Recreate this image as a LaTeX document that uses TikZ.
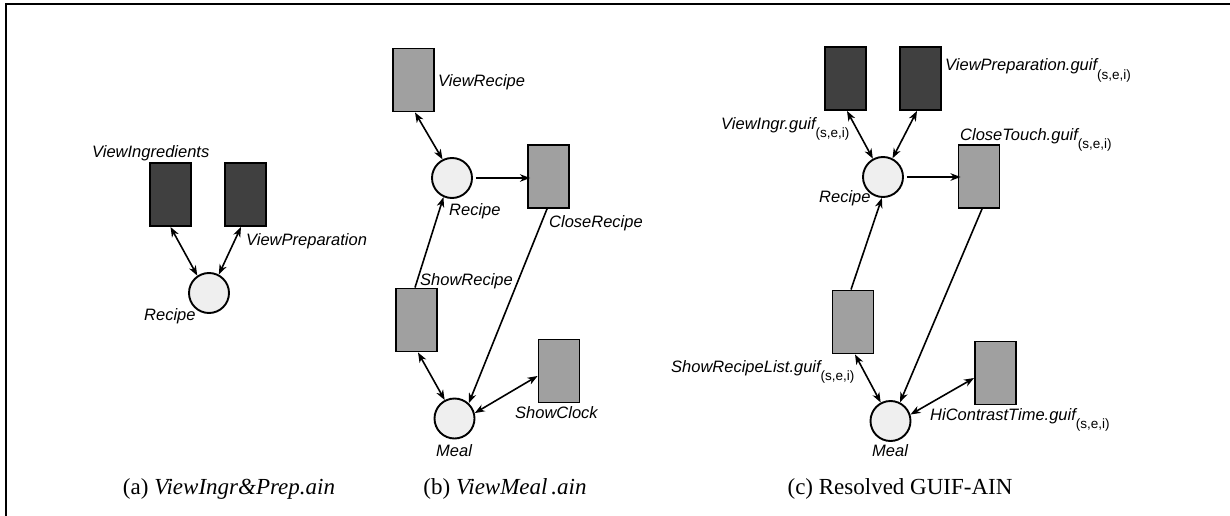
\documentclass[tikz,border=0pt]{standalone}
\usepackage{fontspec}
\setmainfont{Liberation Serif}
\setsansfont{Liberation Sans}
\usetikzlibrary{arrows.meta}
\definecolor{darkfill}{HTML}{404040}
\definecolor{midfill}{HTML}{A0A0A0}
\definecolor{placefill}{HTML}{EFEFEF}
\newcommand{\subsei}{\raisebox{-8.5pt}{\fontsize{13.5}{15}\selectfont\upshape (s,e,i)}}
\begin{document}
\begin{tikzpicture}[x=1pt,y=-1pt,
  darkbox/.style={rectangle,draw=black,line width=1.9pt,fill=darkfill,minimum width=41pt,minimum height=63pt,inner sep=0pt},
  midbox/.style={rectangle,draw=black,line width=1.9pt,fill=midfill,minimum width=41pt,minimum height=63pt,inner sep=0pt},
  placenode/.style={circle,draw=black,line width=1.9pt,fill=placefill,minimum size=40pt,inner sep=0pt},
  lab/.style={anchor=base west,inner sep=0pt,font=\fontsize{16.5}{19}\selectfont\sffamily\itshape},
  captext/.style={anchor=base,inner sep=0pt,font=\fontsize{23}{27}\selectfont},
  tip/.style={line width=1.6pt,-{Stealth[length=10pt,width=7.5pt,inset=3pt]}},
  bitip/.style={line width=1.6pt,{Stealth[length=10pt,width=7.5pt,inset=3pt]}-{Stealth[length=10pt,width=7.5pt,inset=3pt]}},
  frameline/.style={line width=1.4pt}]
\useasboundingbox (0,0) rectangle (1230,516);
% frame (top and left edges)
\coordinate (ftr) at (1230,4);
\coordinate (ftl) at (6,4);
\coordinate (fbl) at (6,516);
\draw[frameline] (ftr) -- (ftl) -- (fbl);

% ---------- (a) ----------
\node[darkbox] (aVI) at (170.5,194.5) {};
\node[darkbox] (aVP) at (245.5,194.5) {};
\node[placenode] (aR) at (209,293) {};
\node[lab] (laVI) at (92,157) {ViewIngredients};
\node[lab] (laVP) at (246,245) {ViewPreparation};
\node[lab] (laR) at (144,320) {Recipe};
\draw[bitip] (aVI.south) -- (aR.124);
\draw[bitip] ([xshift=-4.5pt]aVP.south) -- (aR.62);
\node[captext] (capa) at (229,494) {(a) \textit{ViewIngr\&Prep.ain}};

% ---------- (b) ----------
\node[midbox] (bVR) at (413.5,80) {};
\node[placenode] (bR) at (452,178) {};
\node[midbox] (bCR) at (548.5,176.5) {};
\node[midbox] (bSR) at (416.5,320) {};
\node[midbox] (bSC) at (559,371) {};
\node[placenode] (bM) at (454.5,418.5) {};
\node[lab] (lbVR) at (438,87) {ViewRecipe};
\node[lab] (lbR) at (449,215) {Recipe};
\node[lab] (lbCR) at (549,227) {CloseRecipe};
\node[lab] (lbSR) at (420,285) {ShowRecipe};
\node[lab] (lbSC) at (515,418) {ShowClock};
\node[lab] (lbM) at (436,456) {Meal};
\draw[bitip] ([xshift=1.5pt]bVR.south) -- (bR.117);
\draw[tip] ([xshift=3pt]bR.east) -- ([xshift=3pt]bR.east -| bCR.west);
\draw[tip] ([xshift=-1.5pt]bSR.north) -- (bR.246);
\draw[tip] ([xshift=-1.5pt]bCR.south) -- (bM.47);
\draw[bitip] ([xshift=1.5pt]bSR.south) -- (bM.118);
\draw[bitip] ([yshift=-5pt]bSC.west) -- (bM.15);
\node[captext] (capb) at (505,494) {(b) \textit{ViewMeal\,.ain}};

% ---------- (c) ----------
\node[darkbox] (cVI) at (845.5,78.5) {};
\node[darkbox] (cVP) at (920.5,78.5) {};
\node[placenode] (cR) at (883,177) {};
\node[midbox] (cCT) at (979,176.5) {};
\node[midbox] (cSR) at (853,322) {};
\node[midbox] (cHC) at (995.5,373) {};
\node[placenode] (cM) at (890.5,421) {};
\node[lab] (lcVP) at (945,71) {ViewPreparation.guif\subsei};
\node[lab] (lcVI) at (721,129) {ViewIngr.guif\subsei};
\node[lab] (lcCT) at (960,140) {CloseTouch.guif\subsei};
\node[lab] (lcR) at (819,202) {Recipe};
\node[lab] (lcSR) at (671,372) {ShowRecipeList.guif\subsei};
\node[lab] (lcHC) at (930,420) {HiContrastTime.guif\subsei};
\node[lab] (lcM) at (872,456) {Meal};
\draw[bitip] ([xshift=1.5pt]cVI.south) -- (cR.119);
\draw[bitip] ([xshift=-3.5pt]cVP.south) -- (cR.63);
\draw[tip] ([xshift=3pt]cR.east) -- ([xshift=3pt]cR.east -| cCT.west);
\draw[tip] ([xshift=-2pt]cSR.north) -- (cR.267);
\draw[tip] ([xshift=3pt]cCT.south) -- (cM.63);
\draw[bitip] ([xshift=2pt]cSR.south) -- (cM.118);
\draw[bitip] ([yshift=-5pt]cHC.west) -- (cM.18);
\node[captext] (capc) at (900,494) {(c) Resolved GUIF-AIN};
\end{tikzpicture}
\end{document}
